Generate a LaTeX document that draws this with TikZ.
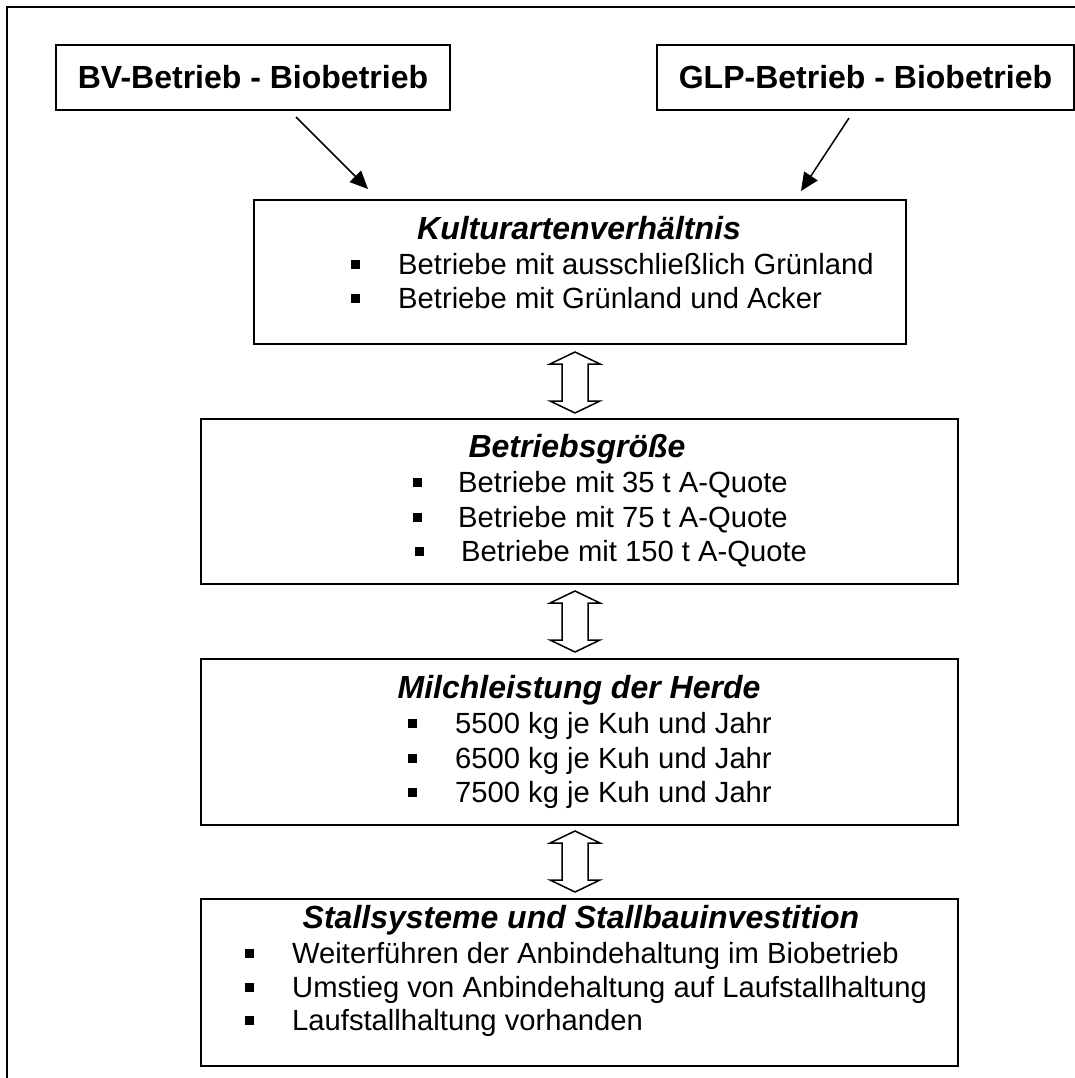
\documentclass[tikz,border=0pt]{standalone}
\usepackage{fontspec}
\setmainfont{Liberation Sans}
\usetikzlibrary{arrows.meta}
\newcommand\bodyfont{\fontsize{29.2}{35}\selectfont}
\newcommand\titlefont{\fontsize{32}{38}\selectfont\bfseries\itshape}
\newcommand\bul{\rule[5pt]{9pt}{9pt}}
\newcommand\dblarr[2]{%
  \draw[dblstyle] (575,#1) -- (600,#1+12) -- (588,#1+12) -- (588,#2-12) -- (600,#2-12)
    -- (575,#2) -- (550,#2-12) -- (562,#2-12) -- (562,#1+12) -- (550,#1+12) -- cycle;}
\begin{document}
\begin{tikzpicture}[x=1pt,y=-1pt,
  box/.style={draw,line width=2pt,inner sep=0pt,anchor=north west},
  topbox/.style={box,font=\fontsize{32}{38}\selectfont\bfseries,align=center},
  title/.style={anchor=base,inner sep=0pt,font=\titlefont},
  item/.style={anchor=base west,inner sep=0pt,font=\bodyfont},
  dblstyle/.style={line width=1.5pt,line join=miter,fill=white},
  arr/.style={line width=1.5pt,-{Triangle[length=18pt,width=16pt]}}]
\useasboundingbox (0,0) rectangle (1075,1078);
% frame
\draw[line width=2pt] (1076,7) -- (7,7) -- (7,1079);
% top boxes
\node[topbox,minimum width=394pt,minimum height=65pt] (bv) at (55,44) {BV-Betrieb - Biobetrieb};
\node[topbox,minimum width=417pt,minimum height=65pt] (glp) at (656,44) {GLP-Betrieb - Biobetrieb};
% main boxes
\node[box,minimum width=652pt,minimum height=144pt] (kult) at (253,199) {};
\node[box,minimum width=757pt,minimum height=165pt] (groesse) at (200,418) {};
\node[box,minimum width=757pt,minimum height=166pt] (milch) at (200,658) {};
\node[box,minimum width=757pt,minimum height=167pt] (stall) at (200,898) {};
% arrows from top boxes
\coordinate (a1s) at (296,117);
\coordinate (a1e) at (368,189);
\coordinate (a2s) at (849,118);
\coordinate (a2e) at (801,191);
\draw[arr] (a1s) -- (a1e);
\draw[arr] (a2s) -- (a2e);
% Kulturartenverhaeltnis
\node[title] (t1) at (579,239) {Kulturartenverhältnis};
\node[item] (k1) at (351,274) {\bul\hspace{38pt}Betriebe mit ausschließlich Grünland};
\node[item] (k2) at (351,308) {\bul\hspace{38pt}Betriebe mit Grünland und Acker};
% Betriebsgroesse
\node[title] (t2) at (577,457) {Betriebsgröße};
\node[item] (g1) at (413,492) {\bul\hspace{36pt}Betriebe mit 35 t A-Quote};
\node[item] (g2) at (413,527) {\bul\hspace{36pt}Betriebe mit 75 t A-Quote};
\node[item] (g3) at (415,561) {\bul\hspace{37pt}Betriebe mit 150 t A-Quote};
% Milchleistung
\node[title] (t3) at (579,698) {Milchleistung der Herde};
\node[item] (m1) at (408,733) {\bul\hspace{38pt}5500 kg je Kuh und Jahr};
\node[item] (m2) at (408,768) {\bul\hspace{38pt}6500 kg je Kuh und Jahr};
\node[item] (m3) at (408,802) {\bul\hspace{38pt}7500 kg je Kuh und Jahr};
% Stallsysteme
\node[title] (t4) at (581,928) {Stallsysteme und Stallbauinvestition};
\node[item] (s1) at (245,963) {\bul\hspace{38pt}Weiterführen der Anbindehaltung im Biobetrieb};
\node[item] (s2) at (245,997) {\bul\hspace{38pt}Umstieg von Anbindehaltung auf Laufstallhaltung};
\node[item] (s3) at (245,1030) {\bul\hspace{38pt}Laufstallhaltung vorhanden};
% double arrows
\dblarr{352}{413}
\dblarr{591}{652}
\dblarr{831}{892}
\end{tikzpicture}
\end{document}
